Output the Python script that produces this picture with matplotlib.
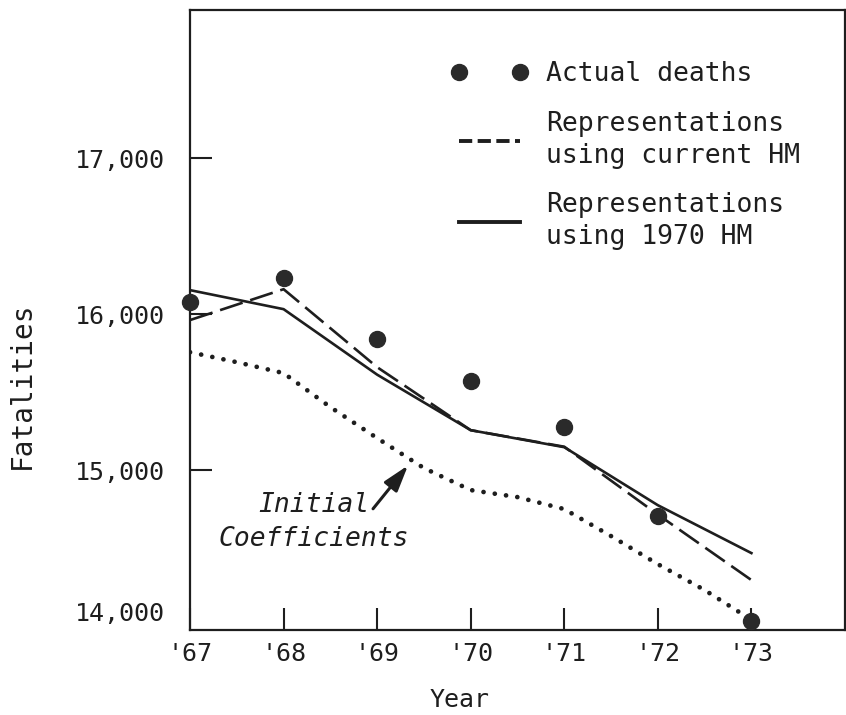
import numpy as np
import matplotlib
matplotlib.use("Agg")
import matplotlib.pyplot as plt
from matplotlib.lines import Line2D
from matplotlib.transforms import ScaledTranslation

# values
years = [1967, 1968, 1969, 1970, 1971, 1972, 1973]
year_labels = ["'67", "'68", "'69", "'70", "'71", "'72", "'73"]
actual = [16077, 16231, 15840, 15571, 15276, 14705, 14032]
current_hm = [15962, 16160, 15660, 15256, 15150, 14715, 14295]
hm_1970 = [16154, 16032, 15612, 15256, 15147, 14775, 14468]

# initial coefficients curve, read every half year
init_years = [1967.0, 1967.5, 1968.0, 1968.5, 1969.0, 1969.5, 1970.0,
              1970.5, 1971.0, 1971.5, 1972.0, 1972.5, 1973.0]
init_coef = [15756, 15692, 15622, 15404, 15205, 15013, 14872,
             14827, 14750, 14577, 14397, 14231, 14040]

yticks = [14000, 15000, 16000, 17000]
ytick_labels = ["14,000", "15,000", "16,000", "17,000"]

ink = "#1e1e1e"
mono = "DejaVu Sans Mono"

fig = plt.figure(figsize=(8.46, 7.15), dpi=100)
ax = fig.add_axes([0.2246, 0.1189, 0.7742, 0.8671])

ax.plot(init_years, init_coef, color=ink, lw=3.4, linestyle=(0, (0.01, 2.4)),
        dash_capstyle="round", solid_capstyle="round")
l_solid, = ax.plot(years, hm_1970, color=ink, lw=1.9)
l_dash, = ax.plot(years, current_hm, color=ink, lw=1.9, linestyle=(0, (9, 3)))
l_dots, = ax.plot(years, actual, linestyle="none", marker="o", ms=11.5,
                  color="#2a2a2a", clip_on=False, zorder=5)

ax.set_xlim(1967, 1974)
ax.set_ylim(13975, 17950)

ax.set_xticks(years)
ax.set_xticklabels(year_labels, family=mono, fontsize=18, color=ink)
ax.set_yticks(yticks)
ax.set_yticklabels(ytick_labels, family=mono, fontsize=18, color=ink)
ax.tick_params(axis="both", direction="in", length=16, width=1.5, color=ink)
ax.tick_params(axis="x", pad=9)
ax.tick_params(axis="y", pad=18)
ax.yaxis.get_major_ticks()[0].tick1line.set_visible(False)

# the 14,000 label sits a bit above the bottom axis in the original
lab = ax.get_yticklabels()[0]
lab.set_transform(lab.get_transform() + ScaledTranslation(0, 0.15, fig.dpi_scale_trans))

for sp in ax.spines.values():
    sp.set_linewidth(1.6)
    sp.set_color(ink)

ax.set_xlabel("Year", family=mono, fontsize=18, color=ink, va="top")
ax.xaxis.set_label_coords(0.411, -0.093)
ax.set_ylabel("Fatalities", family=mono, fontsize=20, color=ink, va="center")
ax.yaxis.set_label_coords(-0.257, 0.395)

# annotation
ax.text(1968.32, 14668, "Initial\nCoefficients", family=mono,
        style="italic", fontsize=19, color=ink, ha="center", va="center",
        linespacing=1.38)
ax.annotate("", xy=(1969.33, 15030), xytext=(1968.956, 14752),
            arrowprops=dict(arrowstyle="-|>,head_length=0.8,head_width=0.25",
                            mutation_scale=20, lw=2.2, color=ink,
                            shrinkA=0, shrinkB=0))

# legend handles drawn a little heavier, as in the original key
key_dash = Line2D([], [], color=ink, lw=2.8, linestyle=(0, (3.4, 1.4)))
key_solid = Line2D([], [], color=ink, lw=2.8)
leg = ax.legend([l_dots, key_dash, key_solid],
                ["Actual deaths", "Representations\nusing current HM",
                 "Representations\nusing 1970 HM"],
                loc="upper left", bbox_to_anchor=(451 / 846, 1 - 61 / 715),
                bbox_transform=fig.transFigure, frameon=False, borderpad=0,
                borderaxespad=0, numpoints=2, handlelength=2.9,
                handletextpad=0.7, labelspacing=0.9,
                prop={"family": mono, "size": 19})
for t in leg.get_texts():
    t.set_color(ink)
    t.set_linespacing(1.3)

fig.savefig("out.png", dpi=100, facecolor="white")
